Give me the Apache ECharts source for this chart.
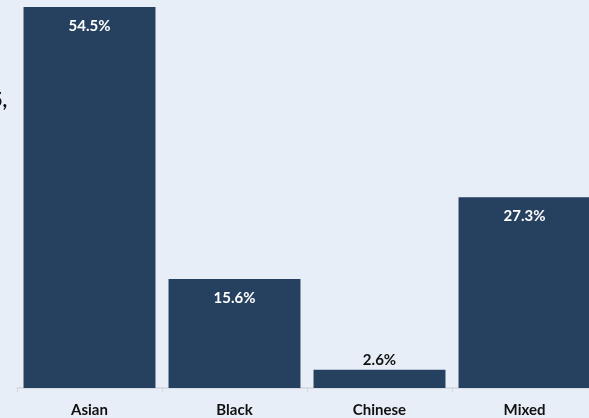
<!DOCTYPE html>
<html>
<head>
<meta charset="utf-8">
<script src="https://cdn.jsdelivr.net/npm/echarts@6/dist/echarts.min.js"></script>
<style>
  html, body { margin: 0; padding: 0; background: #e8eef8; }
  #chart { width: 589px; height: 418px; }
</style>
</head>
<body>
<div id="chart"></div>
<script>
// Share of each ethnic group (%)
const categories = ['Asian', 'Black', 'Chinese', 'Mixed'];
const shares = [54.5, 15.6, 2.6, 27.3];

const barColor = '#26405f';
const font = 'Lato, "Open Sans", sans-serif';

const chart = echarts.init(document.getElementById('chart'), null, { renderer: 'canvas' });

chart.setOption({
  backgroundColor: '#e8eef8',
  animation: false,
  grid: {
    left: 17, top: 0, bottom: 30, width: 580,
    containLabel: false,
    outerBoundsMode: 'none'
  },
  xAxis: {
    type: 'category',
    data: categories,
    axisLine: { show: true, lineStyle: { color: '#d4d7dc', width: 1.5 } },
    axisTick: { show: true, length: 4, lineStyle: { color: '#d4d7dc' } },
    axisLabel: {
      margin: 15,
      color: '#111111',
      fontFamily: font,
      fontWeight: 'bold',
      fontSize: 15
    }
  },
  yAxis: {
    type: 'value',
    min: 0,
    max: 55.5,
    show: false,
    splitLine: { show: false }
  },
  series: [{
    type: 'bar',
    data: shares.map(v => ({
      value: v,
      label: v < 5
        ? { position: 'top', distance: 2, color: '#111111' }
        : { position: 'insideTop', distance: 12, color: '#ffffff' }
    })),
    barCategoryGap: '9%',
    itemStyle: { color: barColor },
    label: {
      show: true,
      fontFamily: font,
      fontWeight: 'bold',
      fontSize: 15,
      formatter: p => p.value.toFixed(1) + '%'
    }
  }],
  graphic: [{
    type: 'text',
    left: -9,
    top: 91,
    style: {
      text: '5,',
      fontFamily: font,
      fontWeight: 'bold',
      fontSize: 20,
      fill: '#111111'
    }
  }]
});
</script>
</body>
</html>
